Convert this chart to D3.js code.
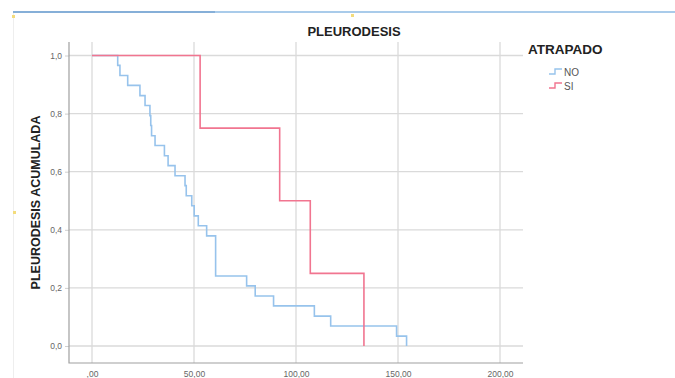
<!DOCTYPE html>
<html>
<head>
<meta charset="utf-8">
<script src="https://cdn.jsdelivr.net/npm/d3@7"></script>
<style>
  body { margin: 0; background: #fff; }
  svg text { font-family: "Liberation Sans", Arial, sans-serif; }
</style>
</head>
<body>
<div id="chart"></div>
<script>
// ---- data ----
const chartTitle = "PLEURODESIS";
const yLabel = "PLEURODESIS ACUMULADA";
const legendTitle = "ATRAPADO";
const groups = ["NO", "SI"];

// step times (x) and the level reached at each step (y)
const noTimes = [0, 12.6, 13.7, 17.5, 23.5, 26, 28.4, 28.8, 29.2, 30.9, 35.5, 37.3, 40.7, 45.6, 46.2,
  48.9, 50.1, 52.1, 56.2, 60.6, 75.8, 80, 89, 109, 117, 149.3, 154.2];
const noValues = [1, 0.966, 0.931, 0.897, 0.862, 0.828, 0.793, 0.759, 0.724, 0.69, 0.655, 0.621, 0.586,
  0.552, 0.517, 0.483, 0.448, 0.414, 0.379, 0.241, 0.207, 0.172, 0.138, 0.103, 0.069, 0.034, 0];
const siTimes = [0, 53, 92, 107, 133.3];
const siValues = [1, 0.75, 0.5, 0.25, 0];

const xTicks = [0, 50, 100, 150, 200];
const xTickLabels = [",00", "50,00", "100,00", "150,00", "200,00"];
const yTicks = [0, 0.2, 0.4, 0.6, 0.8, 1.0];
const yTickLabels = ["0,0", "0,2", "0,4", "0,6", "0,8", "1,0"];

const colors = { NO: "#97c3ec", SI: "#f17590" };

// ---- layout ----
const W = 675, H = 378;
const frame = { left: 69, right: 523, top: 42, bottom: 363 };

const svg = d3.select("#chart").append("svg")
  .attr("width", W).attr("height", H);

// window decorations around the chart
svg.append("line").attr("x1", 13).attr("x2", W).attr("y1", 12).attr("y2", 12)
  .attr("stroke", "#a9cbea").attr("stroke-width", 2);
svg.append("line").attr("x1", 13).attr("x2", 215).attr("y1", 12).attr("y2", 12)
  .attr("stroke", "#86afd8").attr("stroke-width", 2);
svg.append("line").attr("x1", 13.5).attr("x2", 13.5).attr("y1", 13).attr("y2", H)
  .attr("stroke", "#eeeeee").attr("stroke-width", 1);
[[12, 15], [351, 14], [13, 211]].forEach(p => {
  svg.append("rect").attr("x", p[0]).attr("y", p[1]).attr("width", 3).attr("height", 3)
    .attr("fill", "#f3dc7c");
});

// scales (padded inside the frame)
const x = d3.scaleLinear().domain([0, 200]).range([frame.left + 23, frame.right - 23]);
const y = d3.scaleLinear().domain([0, 1]).range([frame.bottom - 17, frame.top + 13.5]);

// grid lines
const grid = svg.append("g").attr("class", "grid");
grid.selectAll(".vgrid").data(xTicks).join("line")
  .attr("x1", d => x(d)).attr("x2", d => x(d))
  .attr("y1", frame.top).attr("y2", frame.bottom)
  .attr("stroke", "#dadada").attr("stroke-width", 1.3);
grid.selectAll(".hgrid").data(yTicks).join("line")
  .attr("x1", frame.left).attr("x2", frame.right)
  .attr("y1", d => y(d)).attr("y2", d => y(d))
  .attr("stroke", "#dadada").attr("stroke-width", 1.3);

// axes
const xAxis = d3.axisBottom(x).tickValues(xTicks).tickSize(0).tickPadding(8)
  .tickFormat((d, i) => xTickLabels[i]);
const xAxisG = svg.append("g").attr("transform", `translate(0,${frame.bottom})`).call(xAxis);
xAxisG.select(".domain").remove();

const yAxis = d3.axisLeft(y).tickValues(yTicks).tickSize(4).tickPadding(3)
  .tickFormat((d, i) => yTickLabels[i]);
const yAxisG = svg.append("g").attr("transform", `translate(${frame.left},0)`).call(yAxis);
yAxisG.select(".domain").remove();
yAxisG.selectAll(".tick line").attr("stroke", "#cfcfcf");

[xAxisG, yAxisG].forEach(g => {
  g.selectAll(".tick text")
    .attr("fill", "#666")
    .style("font-size", "8.5px")
    .style("font-family", "'Liberation Sans', Arial, sans-serif");
});

svg.append("path")
  .attr("d", `M${frame.left},${frame.top}V${frame.bottom}H${frame.right}`)
  .attr("fill", "none").attr("stroke", "#a0a0a0").attr("stroke-width", 1.2);

// step curves
const line = d3.line()
  .x(d => x(d[0]))
  .y(d => y(d[1]))
  .curve(d3.curveStepAfter);

const series = [
  { key: "NO", pts: d3.zip(noTimes, noValues) },
  { key: "SI", pts: d3.zip(siTimes, siValues) }
];
svg.append("g").selectAll("path").data(series).join("path")
  .attr("d", d => line(d.pts))
  .attr("fill", "none")
  .attr("stroke", d => colors[d.key])
  .attr("stroke-width", 1.6);

// title + y label
svg.append("text")
  .attr("x", 354).attr("y", 36)
  .attr("text-anchor", "middle")
  .attr("font-size", 13).attr("font-weight", "bold").attr("fill", "#222")
  .text(chartTitle);

svg.append("text")
  .attr("transform", `translate(40,${(frame.top + frame.bottom) / 2}) rotate(-90)`)
  .attr("text-anchor", "middle")
  .attr("font-size", 12.5).attr("font-weight", "bold").attr("fill", "#222")
  .text(yLabel);

// legend
const legendG = svg.append("g").attr("transform", "translate(528,54)");
legendG.append("text")
  .attr("x", 0).attr("y", 0)
  .attr("font-size", 13.5).attr("font-weight", "bold").attr("fill", "#222")
  .text(legendTitle);

const legendRow = legendG.selectAll(".legend-row").data(groups).join("g")
  .attr("class", "legend-row")
  .attr("transform", (d, i) => `translate(21,${18 + i * 14})`);
legendRow.append("path")
  .attr("d", "M0,2H6V-3H13")
  .attr("fill", "none")
  .attr("stroke", d => colors[d])
  .attr("stroke-width", 1.4);
legendRow.append("text")
  .attr("x", 15).attr("y", 3.5)
  .attr("font-size", 10).attr("fill", "#555")
  .text(d => d);
</script>
</body>
</html>
